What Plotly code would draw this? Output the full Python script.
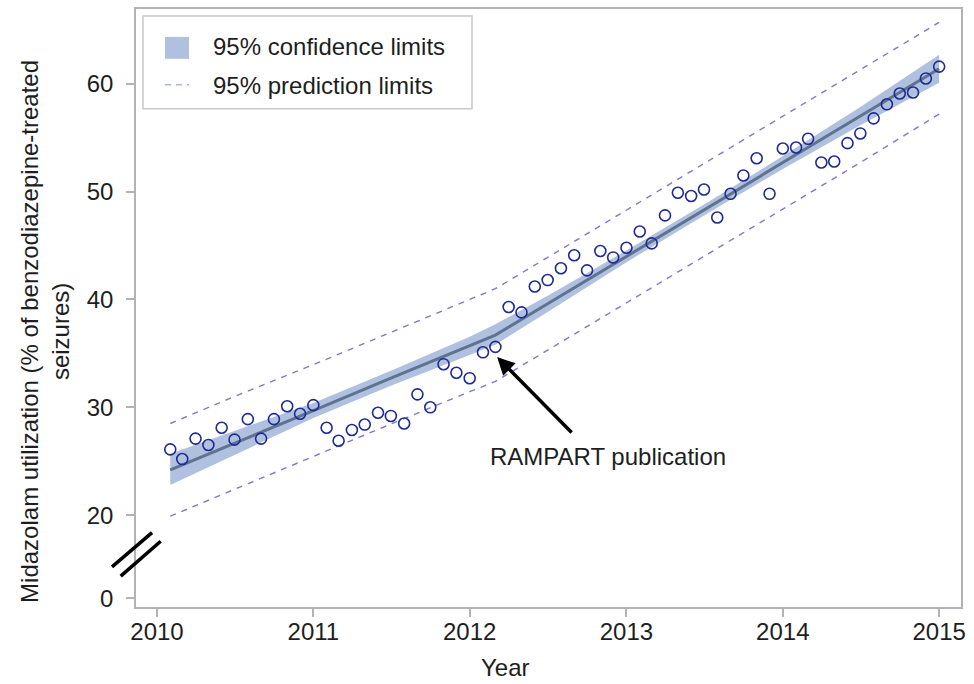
import pandas as pd
import plotly.graph_objects as go

# ---- data ----
months = pd.date_range("2010-02-01", periods=60, freq="MS")
utilization = [26.1, 25.2, 27.1, 26.5, 28.1, 27.0, 28.9, 27.1, 28.9, 30.1,
               29.4, 30.2, 28.1, 26.9, 27.9, 28.4, 29.5, 29.2, 28.5, 31.2,
               30.0, 34.0, 33.2, 32.7, 35.1, 35.6, 39.3, 38.8, 41.2, 41.8,
               42.9, 44.1, 42.7, 44.5, 43.9, 44.8, 46.3, 45.2, 47.8, 49.9,
               49.6, 50.2, 47.6, 49.8, 51.5, 53.1, 49.8, 54.0, 54.1, 54.9,
               52.7, 52.8, 54.5, 55.4, 56.8, 58.1, 59.1, 59.2, 60.5, 61.6]

fit_dates = ["2010-02-01", "2010-07-01", "2011-01-01", "2011-07-01", "2012-01-01", "2012-03-01",
             "2012-07-01", "2013-01-01", "2013-07-01", "2014-01-01", "2014-07-01", "2015-01-01"]
fit_line = [24.2, 26.7, 29.7, 32.7, 35.7, 36.7, 39.6, 44.0, 48.3, 52.7, 57.0, 61.4]
ci_upper = [25.7, 27.8, 30.4, 33.4, 36.55, 37.7, 40.35, 44.55, 48.8, 53.3, 57.85, 62.7]
ci_lower = [22.8, 25.6, 29.0, 32.0, 34.85, 35.8, 38.85, 43.45, 47.8, 52.1, 56.15, 60.1]
pi_upper = [28.5, 31.0, 33.95, 36.95, 39.95, 41.0, 43.9, 48.3, 52.6, 57.0, 61.3, 65.7]
pi_lower = [19.9, 22.4, 25.45, 28.45, 31.45, 32.4, 35.3, 39.7, 44.0, 48.4, 52.7, 57.2]

x_tickvals = ["2010-01-01", "2011-01-01", "2012-01-01", "2013-01-01", "2014-01-01", "2015-01-01"]
x_ticktext = ["2010", "2011", "2012", "2013", "2014", "2015"]
y_tickvals = [12.3, 20, 30, 40, 50, 60]
y_ticktext = ["0", "20", "30", "40", "50", "60"]

legend_labels = ["95% confidence limits", "95% prediction limits"]
annotation_text = "RAMPART publication"
x_title = "Year"
y_title = "Midazolam utilization (% of benzodiazepine-treated<br>seizures)"

# ---- styles ----
FONT = "Liberation Sans, Arial, sans-serif"
FS = 24
TXT = "#1e1e1e"
BAND = "#b0c1e0"
PRED = "#7c7acb"
LINE = "#5f7391"
MARK = "#1f2a93"
AXIS = "#b3b3b3"

fig = go.Figure()

fig.add_trace(go.Scatter(
    x=fit_dates + fit_dates[::-1], y=ci_upper + ci_lower[::-1],
    fill="toself", fillcolor=BAND, line=dict(width=0), mode="lines",
    hoverinfo="skip", showlegend=False))
fig.add_trace(go.Scatter(x=fit_dates, y=pi_upper, mode="lines",
                         line=dict(color=PRED, width=1.4, dash="6px,6px"), showlegend=False))
fig.add_trace(go.Scatter(x=fit_dates, y=pi_lower, mode="lines",
                         line=dict(color=PRED, width=1.4, dash="6px,6px"), showlegend=False))
fig.add_trace(go.Scatter(x=fit_dates, y=fit_line, mode="lines",
                         line=dict(color=LINE, width=3), showlegend=False))
fig.add_trace(go.Scatter(x=months, y=utilization, mode="markers",
                         marker=dict(symbol="circle-open", size=11, color=MARK,
                                     line=dict(width=1.6, color=MARK)),
                         showlegend=False))

L, R, T, B = 136, 13, 7, 77
W, H = 974, 684
pw, ph = W - L - R, H - T - B


def px(xp):
    return (xp - L) / pw


def py(yp):
    return (H - B - yp) / ph


shapes = [
    # axis break marks
    dict(type="line", xref="paper", yref="paper", x0=px(112), y0=py(566.7), x1=px(152), y1=py(532.3),
         line=dict(color="black", width=3.5)),
    dict(type="line", xref="paper", yref="paper", x0=px(120.7), y0=py(576), x1=px(160.7), y1=py(541),
         line=dict(color="black", width=3.5)),
    # legend box
    dict(type="rect", xref="paper", yref="paper", x0=px(143), x1=px(472), y0=py(107), y1=py(14),
         line=dict(color="#c8c8c8", width=1.5), fillcolor="white", layer="above"),
    dict(type="rect", xref="paper", yref="paper", x0=px(165), x1=px(189), y0=py(57), y1=py(35),
         line=dict(width=0), fillcolor=BAND, layer="above"),
    dict(type="line", xref="paper", yref="paper", x0=px(165), x1=px(189), y0=py(83), y1=py(83),
         line=dict(color="#aab6dc", width=1.4, dash="6px,5px"), layer="above"),
]

annotations = [
    dict(xref="paper", yref="paper", x=px(211), y=py(45), text=legend_labels[0], showarrow=False,
         xanchor="left", yanchor="middle", font=dict(size=FS, color=TXT, family=FONT)),
    dict(xref="paper", yref="paper", x=px(211), y=py(84), text=legend_labels[1], showarrow=False,
         xanchor="left", yanchor="middle", font=dict(size=FS, color=TXT, family=FONT)),
    # arrow
    dict(x="2012-03-05", y=34.66, xref="x", yref="y", text="", showarrow=True,
         arrowhead=2, arrowsize=1, arrowwidth=3.5, arrowcolor="black",
         ax=76, ay=77, standoff=0),
    dict(xref="paper", yref="paper", x=px(607.5), y=py(456), text=annotation_text, showarrow=False,
         xanchor="center", yanchor="middle", font=dict(size=FS, color=TXT, family=FONT)),
    dict(xref="paper", yref="paper", x=px(505), y=py(668), text=x_title, showarrow=False,
         xanchor="center", yanchor="middle", font=dict(size=FS, color=TXT, family=FONT)),
    dict(xref="paper", yref="paper", x=px(45), y=py(331), text=y_title, showarrow=False,
         textangle=-90, xanchor="center", yanchor="middle",
         font=dict(size=FS, color=TXT, family=FONT)),
]

fig.update_layout(
    width=W, height=H,
    margin=dict(l=L, r=R, t=T, b=B),
    paper_bgcolor="white", plot_bgcolor="white",
    font=dict(family=FONT, size=FS, color=TXT),
    showlegend=False,
    shapes=shapes, annotations=annotations,
    xaxis=dict(type="date", range=["2009-11-13", "2015-02-21"],
               tickvals=x_tickvals, ticktext=x_ticktext,
               showgrid=False, zeroline=False, showline=True, mirror=True,
               linecolor=AXIS, linewidth=1.5, ticks="outside", ticklen=8,
               ticklabelstandoff=-6,
               tickcolor=AXIS, tickwidth=1.5, tickfont=dict(size=FS, color=TXT)),
    yaxis=dict(range=[11.48, 66.94], tickvals=y_tickvals, ticktext=y_ticktext,
               showgrid=False, zeroline=False, showline=True, mirror=True,
               linecolor=AXIS, linewidth=1.5, ticks="outside", ticklen=8,
               ticklabelstandoff=8,
               tickcolor=AXIS, tickwidth=1.5, tickfont=dict(size=FS, color=TXT)),
)

fig.write_html("out.html", config={"displayModeBar": False},
               post_script="document.body.style.margin='0';")
